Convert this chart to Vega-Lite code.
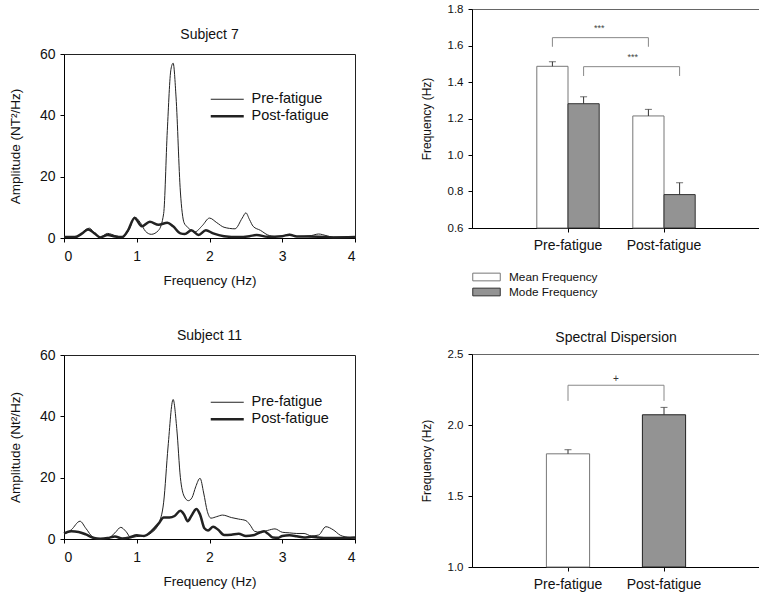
{
  "$schema": "https://vega.github.io/schema/vega-lite/v6.json",
  "description": "Power spectra of two subjects and bar charts of spectral measures, pre vs post fatigue",
  "padding": {"left": 7, "top": 2, "right": 0, "bottom": 0},
  "config": {
    "font": "Liberation Sans",
    "axis": {"grid": false, "domainColor": "#000", "tickColor": "#000", "labelColor": "#111", "titleColor": "#111", "titleFontWeight": "normal", "tickSize": 4, "labelOverlap": false},
    "title": {"fontWeight": "normal", "fontSize": 14, "color": "#111"},
    "legend": {"labelColor": "#111"}
  },
  "datasets": {
    "subject7": [
      {"freq": 0, "amp": 0.5, "series": "Pre-fatigue"},
      {"freq": 0.1, "amp": 0.3, "series": "Pre-fatigue"},
      {"freq": 0.2, "amp": 0.6, "series": "Pre-fatigue"},
      {"freq": 0.3, "amp": 2.8, "series": "Pre-fatigue"},
      {"freq": 0.35, "amp": 3.2, "series": "Pre-fatigue"},
      {"freq": 0.42, "amp": 1.5, "series": "Pre-fatigue"},
      {"freq": 0.5, "amp": 0.3, "series": "Pre-fatigue"},
      {"freq": 0.6, "amp": 1.5, "series": "Pre-fatigue"},
      {"freq": 0.7, "amp": 0.8, "series": "Pre-fatigue"},
      {"freq": 0.8, "amp": 0.3, "series": "Pre-fatigue"},
      {"freq": 0.9, "amp": 3, "series": "Pre-fatigue"},
      {"freq": 0.97, "amp": 6.8, "series": "Pre-fatigue"},
      {"freq": 1.05, "amp": 5, "series": "Pre-fatigue"},
      {"freq": 1.12, "amp": 2.2, "series": "Pre-fatigue"},
      {"freq": 1.2, "amp": 1.2, "series": "Pre-fatigue"},
      {"freq": 1.3, "amp": 2.5, "series": "Pre-fatigue"},
      {"freq": 1.37, "amp": 8, "series": "Pre-fatigue"},
      {"freq": 1.42, "amp": 35, "series": "Pre-fatigue"},
      {"freq": 1.47, "amp": 55, "series": "Pre-fatigue"},
      {"freq": 1.5, "amp": 57, "series": "Pre-fatigue"},
      {"freq": 1.54, "amp": 46, "series": "Pre-fatigue"},
      {"freq": 1.6, "amp": 15, "series": "Pre-fatigue"},
      {"freq": 1.65, "amp": 5, "series": "Pre-fatigue"},
      {"freq": 1.7, "amp": 3.5, "series": "Pre-fatigue"},
      {"freq": 1.8, "amp": 2, "series": "Pre-fatigue"},
      {"freq": 1.9, "amp": 4, "series": "Pre-fatigue"},
      {"freq": 2.0, "amp": 6.5, "series": "Pre-fatigue"},
      {"freq": 2.1, "amp": 5, "series": "Pre-fatigue"},
      {"freq": 2.2, "amp": 3.5, "series": "Pre-fatigue"},
      {"freq": 2.35, "amp": 3, "series": "Pre-fatigue"},
      {"freq": 2.45, "amp": 6.5, "series": "Pre-fatigue"},
      {"freq": 2.5, "amp": 8.2, "series": "Pre-fatigue"},
      {"freq": 2.55, "amp": 6, "series": "Pre-fatigue"},
      {"freq": 2.6, "amp": 3.8, "series": "Pre-fatigue"},
      {"freq": 2.7, "amp": 2.5, "series": "Pre-fatigue"},
      {"freq": 2.8, "amp": 1, "series": "Pre-fatigue"},
      {"freq": 2.9, "amp": 0.5, "series": "Pre-fatigue"},
      {"freq": 3.0, "amp": 0.6, "series": "Pre-fatigue"},
      {"freq": 3.1, "amp": 1.2, "series": "Pre-fatigue"},
      {"freq": 3.2, "amp": 0.5, "series": "Pre-fatigue"},
      {"freq": 3.4, "amp": 0.8, "series": "Pre-fatigue"},
      {"freq": 3.5, "amp": 1.3, "series": "Pre-fatigue"},
      {"freq": 3.6, "amp": 0.8, "series": "Pre-fatigue"},
      {"freq": 3.7, "amp": 0.3, "series": "Pre-fatigue"},
      {"freq": 3.85, "amp": 0.3, "series": "Pre-fatigue"},
      {"freq": 4.0, "amp": 0.5, "series": "Pre-fatigue"},
      {"freq": 0, "amp": 0.3, "series": "Post-fatigue"},
      {"freq": 0.15, "amp": 0.3, "series": "Post-fatigue"},
      {"freq": 0.25, "amp": 1.5, "series": "Post-fatigue"},
      {"freq": 0.33, "amp": 2.8, "series": "Post-fatigue"},
      {"freq": 0.42, "amp": 1.5, "series": "Post-fatigue"},
      {"freq": 0.5, "amp": 0.2, "series": "Post-fatigue"},
      {"freq": 0.6, "amp": 1, "series": "Post-fatigue"},
      {"freq": 0.7, "amp": 0.5, "series": "Post-fatigue"},
      {"freq": 0.8, "amp": 0.3, "series": "Post-fatigue"},
      {"freq": 0.88, "amp": 2.5, "series": "Post-fatigue"},
      {"freq": 0.97, "amp": 6.5, "series": "Post-fatigue"},
      {"freq": 1.07, "amp": 3.8, "series": "Post-fatigue"},
      {"freq": 1.18, "amp": 5.3, "series": "Post-fatigue"},
      {"freq": 1.3, "amp": 4.3, "series": "Post-fatigue"},
      {"freq": 1.42, "amp": 5, "series": "Post-fatigue"},
      {"freq": 1.5, "amp": 3.8, "series": "Post-fatigue"},
      {"freq": 1.6, "amp": 1.5, "series": "Post-fatigue"},
      {"freq": 1.66, "amp": 1.3, "series": "Post-fatigue"},
      {"freq": 1.75, "amp": 2.5, "series": "Post-fatigue"},
      {"freq": 1.85, "amp": 1, "series": "Post-fatigue"},
      {"freq": 1.95, "amp": 2.5, "series": "Post-fatigue"},
      {"freq": 2.05, "amp": 1.5, "series": "Post-fatigue"},
      {"freq": 2.2, "amp": 0.6, "series": "Post-fatigue"},
      {"freq": 2.4, "amp": 0.3, "series": "Post-fatigue"},
      {"freq": 2.55, "amp": 0.6, "series": "Post-fatigue"},
      {"freq": 2.65, "amp": 1, "series": "Post-fatigue"},
      {"freq": 2.8, "amp": 0.4, "series": "Post-fatigue"},
      {"freq": 3.0, "amp": 0.6, "series": "Post-fatigue"},
      {"freq": 3.1, "amp": 1.1, "series": "Post-fatigue"},
      {"freq": 3.2, "amp": 0.5, "series": "Post-fatigue"},
      {"freq": 3.5, "amp": 0.4, "series": "Post-fatigue"},
      {"freq": 3.7, "amp": 0.2, "series": "Post-fatigue"},
      {"freq": 4.0, "amp": 0.3, "series": "Post-fatigue"}
    ],
    "subject11": [
      {"freq": 0, "amp": 1.5, "series": "Pre-fatigue"},
      {"freq": 0.1, "amp": 3, "series": "Pre-fatigue"},
      {"freq": 0.22, "amp": 5.8, "series": "Pre-fatigue"},
      {"freq": 0.3, "amp": 3.5, "series": "Pre-fatigue"},
      {"freq": 0.4, "amp": 0.6, "series": "Pre-fatigue"},
      {"freq": 0.5, "amp": 0.1, "series": "Pre-fatigue"},
      {"freq": 0.6, "amp": 0.2, "series": "Pre-fatigue"},
      {"freq": 0.7, "amp": 2, "series": "Pre-fatigue"},
      {"freq": 0.78, "amp": 3.8, "series": "Pre-fatigue"},
      {"freq": 0.85, "amp": 2.5, "series": "Pre-fatigue"},
      {"freq": 0.92, "amp": 0.5, "series": "Pre-fatigue"},
      {"freq": 1.0, "amp": 0.8, "series": "Pre-fatigue"},
      {"freq": 1.1, "amp": 1, "series": "Pre-fatigue"},
      {"freq": 1.2, "amp": 2, "series": "Pre-fatigue"},
      {"freq": 1.3, "amp": 5, "series": "Pre-fatigue"},
      {"freq": 1.37, "amp": 12, "series": "Pre-fatigue"},
      {"freq": 1.43, "amp": 30, "series": "Pre-fatigue"},
      {"freq": 1.5, "amp": 45.5, "series": "Pre-fatigue"},
      {"freq": 1.55, "amp": 36, "series": "Pre-fatigue"},
      {"freq": 1.6, "amp": 20, "series": "Pre-fatigue"},
      {"freq": 1.65, "amp": 14, "series": "Pre-fatigue"},
      {"freq": 1.71, "amp": 12.5, "series": "Pre-fatigue"},
      {"freq": 1.76, "amp": 13.5, "series": "Pre-fatigue"},
      {"freq": 1.81, "amp": 17, "series": "Pre-fatigue"},
      {"freq": 1.87, "amp": 19.8, "series": "Pre-fatigue"},
      {"freq": 1.92, "amp": 15, "series": "Pre-fatigue"},
      {"freq": 1.97, "amp": 9, "series": "Pre-fatigue"},
      {"freq": 2.02, "amp": 6.8, "series": "Pre-fatigue"},
      {"freq": 2.1, "amp": 7.3, "series": "Pre-fatigue"},
      {"freq": 2.18, "amp": 7.8, "series": "Pre-fatigue"},
      {"freq": 2.3, "amp": 7, "series": "Pre-fatigue"},
      {"freq": 2.4, "amp": 6.5, "series": "Pre-fatigue"},
      {"freq": 2.5, "amp": 6, "series": "Pre-fatigue"},
      {"freq": 2.56, "amp": 4.5, "series": "Pre-fatigue"},
      {"freq": 2.62, "amp": 2.5, "series": "Pre-fatigue"},
      {"freq": 2.7, "amp": 2.2, "series": "Pre-fatigue"},
      {"freq": 2.8, "amp": 2.8, "series": "Pre-fatigue"},
      {"freq": 2.9, "amp": 3.3, "series": "Pre-fatigue"},
      {"freq": 3.0, "amp": 2.2, "series": "Pre-fatigue"},
      {"freq": 3.1, "amp": 2, "series": "Pre-fatigue"},
      {"freq": 3.2, "amp": 1.8, "series": "Pre-fatigue"},
      {"freq": 3.3, "amp": 1.8, "series": "Pre-fatigue"},
      {"freq": 3.4, "amp": 1, "series": "Pre-fatigue"},
      {"freq": 3.5, "amp": 1.3, "series": "Pre-fatigue"},
      {"freq": 3.6, "amp": 4, "series": "Pre-fatigue"},
      {"freq": 3.7, "amp": 3, "series": "Pre-fatigue"},
      {"freq": 3.8, "amp": 1.2, "series": "Pre-fatigue"},
      {"freq": 3.9, "amp": 0.6, "series": "Pre-fatigue"},
      {"freq": 4.0, "amp": 0.3, "series": "Pre-fatigue"},
      {"freq": 0, "amp": 1.8, "series": "Post-fatigue"},
      {"freq": 0.1, "amp": 2.5, "series": "Post-fatigue"},
      {"freq": 0.2, "amp": 2.3, "series": "Post-fatigue"},
      {"freq": 0.3, "amp": 1.5, "series": "Post-fatigue"},
      {"freq": 0.4, "amp": 0.4, "series": "Post-fatigue"},
      {"freq": 0.5, "amp": 0.1, "series": "Post-fatigue"},
      {"freq": 0.6, "amp": 0.3, "series": "Post-fatigue"},
      {"freq": 0.7, "amp": 0.8, "series": "Post-fatigue"},
      {"freq": 0.8, "amp": 0.2, "series": "Post-fatigue"},
      {"freq": 0.9, "amp": 0.5, "series": "Post-fatigue"},
      {"freq": 1.0, "amp": 1.2, "series": "Post-fatigue"},
      {"freq": 1.1, "amp": 1, "series": "Post-fatigue"},
      {"freq": 1.2, "amp": 2.5, "series": "Post-fatigue"},
      {"freq": 1.3, "amp": 5, "series": "Post-fatigue"},
      {"freq": 1.37, "amp": 7, "series": "Post-fatigue"},
      {"freq": 1.45, "amp": 7, "series": "Post-fatigue"},
      {"freq": 1.52, "amp": 7.5, "series": "Post-fatigue"},
      {"freq": 1.6, "amp": 9.2, "series": "Post-fatigue"},
      {"freq": 1.65, "amp": 8, "series": "Post-fatigue"},
      {"freq": 1.7, "amp": 5.8, "series": "Post-fatigue"},
      {"freq": 1.75, "amp": 7.5, "series": "Post-fatigue"},
      {"freq": 1.82, "amp": 9.8, "series": "Post-fatigue"},
      {"freq": 1.87, "amp": 8, "series": "Post-fatigue"},
      {"freq": 1.93, "amp": 3.5, "series": "Post-fatigue"},
      {"freq": 1.98, "amp": 2.8, "series": "Post-fatigue"},
      {"freq": 2.05, "amp": 4, "series": "Post-fatigue"},
      {"freq": 2.12, "amp": 3, "series": "Post-fatigue"},
      {"freq": 2.2, "amp": 1.3, "series": "Post-fatigue"},
      {"freq": 2.3, "amp": 1.4, "series": "Post-fatigue"},
      {"freq": 2.4, "amp": 1.7, "series": "Post-fatigue"},
      {"freq": 2.5, "amp": 1, "series": "Post-fatigue"},
      {"freq": 2.6, "amp": 1.2, "series": "Post-fatigue"},
      {"freq": 2.7, "amp": 2.2, "series": "Post-fatigue"},
      {"freq": 2.75, "amp": 2.5, "series": "Post-fatigue"},
      {"freq": 2.8, "amp": 1.8, "series": "Post-fatigue"},
      {"freq": 2.87, "amp": 0.5, "series": "Post-fatigue"},
      {"freq": 2.95, "amp": 0.4, "series": "Post-fatigue"},
      {"freq": 3.0, "amp": 1, "series": "Post-fatigue"},
      {"freq": 3.1, "amp": 1.2, "series": "Post-fatigue"},
      {"freq": 3.2, "amp": 0.9, "series": "Post-fatigue"},
      {"freq": 3.3, "amp": 0.5, "series": "Post-fatigue"},
      {"freq": 3.4, "amp": 0.7, "series": "Post-fatigue"},
      {"freq": 3.5, "amp": 0.5, "series": "Post-fatigue"},
      {"freq": 3.6, "amp": 0.3, "series": "Post-fatigue"},
      {"freq": 3.8, "amp": 0.3, "series": "Post-fatigue"},
      {"freq": 4.0, "amp": 0.5, "series": "Post-fatigue"}
    ],
    "peaks": [
      {"condition": "Pre-fatigue", "measure": "Mean Frequency", "value": 1.486, "err": 1.511},
      {"condition": "Pre-fatigue", "measure": "Mode Frequency", "value": 1.281, "err": 1.319},
      {"condition": "Post-fatigue", "measure": "Mean Frequency", "value": 1.214, "err": 1.25},
      {"condition": "Post-fatigue", "measure": "Mode Frequency", "value": 0.783, "err": 0.848}
    ],
    "peakBrackets": [
      {"bracket": "mean", "step": 1, "condition": "Pre-fatigue", "measure": "Mean Frequency", "y": 1.593},
      {"bracket": "mean", "step": 2, "condition": "Pre-fatigue", "measure": "Mean Frequency", "y": 1.643},
      {"bracket": "mean", "step": 3, "condition": "Post-fatigue", "measure": "Mean Frequency", "y": 1.643},
      {"bracket": "mean", "step": 4, "condition": "Post-fatigue", "measure": "Mean Frequency", "y": 1.593},
      {"bracket": "mode", "step": 1, "condition": "Pre-fatigue", "measure": "Mode Frequency", "y": 1.433},
      {"bracket": "mode", "step": 2, "condition": "Pre-fatigue", "measure": "Mode Frequency", "y": 1.484},
      {"bracket": "mode", "step": 3, "condition": "Post-fatigue", "measure": "Mode Frequency", "y": 1.484},
      {"bracket": "mode", "step": 4, "condition": "Post-fatigue", "measure": "Mode Frequency", "y": 1.433}
    ],
    "dispersion": [
      {"condition": "Pre-fatigue", "value": 1.797, "err": 1.826},
      {"condition": "Post-fatigue", "value": 2.072, "err": 2.124}
    ],
    "dispBracket": [
      {"step": 1, "condition": "Pre-fatigue", "y": 2.17},
      {"step": 2, "condition": "Pre-fatigue", "y": 2.28},
      {"step": 3, "condition": "Post-fatigue", "y": 2.28},
      {"step": 4, "condition": "Post-fatigue", "y": 2.17}
    ]
  },
  "spacing": 58,
  "resolve": {
    "scale": {"fill": "independent", "stroke": "independent", "strokeWidth": "independent"},
    "legend": {"fill": "independent", "stroke": "independent", "strokeWidth": "independent"}
  },
  "hconcat": [
    {
      "spacing": 0,
      "resolve": {
        "scale": {"strokeWidth": "independent"},
        "legend": {"strokeWidth": "independent"}
      },
      "vconcat": [
        {
          "width": 291,
          "height": 18,
          "view": {"stroke": null},
          "data": {"values": []},
          "mark": {"type": "point", "opacity": 0},
          "encoding": {}
        },
        {
          "spacing": 41,
          "resolve": {
            "scale": {"strokeWidth": "independent"},
            "legend": {"strokeWidth": "independent"}
          },
          "vconcat": [
            {
              "width": 291,
              "height": 184,
              "title": {"text": "Subject 7", "offset": 5},
              "view": {"stroke": "#222"},
              "data": {"name": "subject7"},
              "mark": {"type": "line", "interpolate": "monotone", "color": "#222"},
              "encoding": {
                "x": {"field": "freq", "type": "quantitative", "scale": {"domain": [0, 4], "nice": false},
                      "axis": {"values": [0, 1, 2, 3, 4], "title": "Frequency (Hz)", "labelFontSize": 14, "titleFontSize": 13.5, "labelPadding": 7, "titlePadding": 10}},
                "y": {"field": "amp", "type": "quantitative", "scale": {"domain": [0, 60]},
                      "axis": {"values": [0, 20, 40, 60], "title": "Amplitude (NT²/Hz)", "labelFontSize": 14, "titleFontSize": 13.5, "labelPadding": 5, "titlePadding": 17}},
                "strokeWidth": {"field": "series", "type": "ordinal", "scale": {"domain": ["Pre-fatigue", "Post-fatigue"], "range": [1, 2.5]},
                      "legend": {"title": null, "orient": "none", "legendX": 156, "legendY": 38, "symbolType": "M-3,0H3", "symbolSize": 121, "symbolStrokeColor": "#222", "labelFontSize": 14.5, "labelOffset": 17, "padding": 0}}
              }
            },
            {
              "width": 291,
              "height": 184,
              "title": {"text": "Subject 11", "offset": 5},
              "view": {"stroke": "#222"},
              "data": {"name": "subject11"},
              "mark": {"type": "line", "interpolate": "monotone", "color": "#222"},
              "encoding": {
                "x": {"field": "freq", "type": "quantitative", "scale": {"domain": [0, 4], "nice": false},
                      "axis": {"values": [0, 1, 2, 3, 4], "title": "Frequency (Hz)", "labelFontSize": 14, "titleFontSize": 13.5, "labelPadding": 7, "titlePadding": 10}},
                "y": {"field": "amp", "type": "quantitative", "scale": {"domain": [0, 60]},
                      "axis": {"values": [0, 20, 40, 60], "title": "Amplitude (Nt²/Hz)", "labelFontSize": 14, "titleFontSize": 13.5, "labelPadding": 5, "titlePadding": 17}},
                "strokeWidth": {"field": "series", "type": "ordinal", "scale": {"domain": ["Pre-fatigue", "Post-fatigue"], "range": [1, 2.5]},
                      "legend": {"title": null, "orient": "none", "legendX": 156, "legendY": 40, "symbolType": "M-3,0H3", "symbolSize": 121, "symbolStrokeColor": "#222", "labelFontSize": 14.5, "labelOffset": 17, "padding": 0}}
              }
            }
          ]
        }
      ]
    },
    {
      "spacing": 30,
      "resolve": {
        "scale": {"fill": "independent", "stroke": "independent"},
        "legend": {"fill": "independent", "stroke": "independent"}
      },
      "vconcat": [
        {
          "width": 288,
          "height": 219,
          "view": {"stroke": "#666"},
          "encoding": {
            "x": {"field": "condition", "type": "nominal", "sort": null,
                  "scale": {"domain": ["Pre-fatigue", "Post-fatigue"], "paddingInner": 0.35, "paddingOuter": 0.675},
                  "axis": {"title": null, "labelAngle": 0, "labelFontSize": 14, "labelPadding": 6}},
            "xOffset": {"field": "measure", "type": "nominal", "scale": {"domain": ["Mean Frequency", "Mode Frequency"], "paddingInner": 0, "paddingOuter": 0}}
          },
          "layer": [
            {
              "data": {"name": "peaks"},
              "mark": {"type": "bar", "strokeWidth": 1},
              "encoding": {
                "y": {"field": "value", "type": "quantitative", "scale": {"domain": [0.6, 1.8], "nice": false, "zero": false},
                      "axis": {"values": [0.6, 0.8, 1.0, 1.2, 1.4, 1.6, 1.8], "tickCount": 7, "format": ".1f", "title": "Frequency (Hz)", "labelFontSize": 11.5, "titleFontSize": 12, "labelPadding": 5, "titlePadding": 14, "labelOverlap": false}},
                "y2": {"datum": 0.6},
                "fill": {"field": "measure", "type": "nominal", "scale": {"domain": ["Mean Frequency", "Mode Frequency"], "range": ["#ffffff", "#939393"]},
                         "legend": {"title": null, "orient": "none", "legendX": 8.5, "legendY": 262, "symbolType": "M-2.5,-0.7H2.5V0.7H-2.5Z", "symbolSize": 121, "symbolStrokeColor": "#333", "symbolStrokeWidth": 1, "symbolOpacity": 1, "labelFontSize": 11.8, "labelOffset": 16.5, "padding": 0, "rowPadding": 2}},
                "stroke": {"field": "measure", "type": "nominal", "scale": {"domain": ["Mean Frequency", "Mode Frequency"], "range": ["#777777", "#333333"]}, "legend": null}
              }
            },
            {
              "data": {"name": "peaks"},
              "mark": {"type": "rule", "color": "#333", "strokeWidth": 1},
              "encoding": {"y": {"field": "value", "type": "quantitative", "axis": {"values": [0.6, 0.8, 1.0, 1.2, 1.4, 1.6, 1.8], "tickCount": 7}}, "y2": {"field": "err"}}
            },
            {
              "data": {"name": "peaks"},
              "mark": {"type": "tick", "color": "#333", "size": 7, "thickness": 1},
              "encoding": {"y": {"field": "err", "type": "quantitative", "axis": {"values": [0.6, 0.8, 1.0, 1.2, 1.4, 1.6, 1.8], "tickCount": 7}}}
            },
            {
              "data": {"name": "peakBrackets"},
              "mark": {"type": "line", "color": "#888", "strokeWidth": 1},
              "encoding": {
                "y": {"field": "y", "type": "quantitative", "axis": {"values": [0.6, 0.8, 1.0, 1.2, 1.4, 1.6, 1.8], "tickCount": 7}},
                "order": {"field": "step", "type": "quantitative"},
                "detail": {"field": "bracket", "type": "nominal"}
              }
            },
            {
              "data": {"values": [{"label": "***", "condition": "Pre-fatigue", "y": 1.696}]},
              "mark": {"type": "text", "fontSize": 9, "color": "#444"},
              "encoding": {
                "x": {"field": "condition", "type": "nominal", "bandPosition": 1},
                "xOffset": null,
                "y": {"field": "y", "type": "quantitative", "axis": {"values": [0.6, 0.8, 1.0, 1.2, 1.4, 1.6, 1.8], "tickCount": 7}},
                "text": {"field": "label"}
              }
            },
            {
              "data": {"values": [{"label": "***", "condition": "Post-fatigue", "y": 1.537}]},
              "mark": {"type": "text", "fontSize": 9, "color": "#444"},
              "encoding": {
                "x": {"field": "condition", "type": "nominal", "bandPosition": 0},
                "xOffset": null,
                "y": {"field": "y", "type": "quantitative", "axis": {"values": [0.6, 0.8, 1.0, 1.2, 1.4, 1.6, 1.8], "tickCount": 7}},
                "text": {"field": "label"}
              }
            }
          ]
        },
        {
          "width": 288,
          "height": 213,
          "title": {"text": "Spectral Dispersion", "offset": 3},
          "view": {"stroke": "#666"},
          "encoding": {
            "x": {"field": "condition", "type": "nominal", "sort": null,
                  "scale": {"domain": ["Pre-fatigue", "Post-fatigue"], "paddingInner": 0, "paddingOuter": 0.5},
                  "axis": {"title": null, "labelAngle": 0, "labelFontSize": 14, "labelPadding": 6}}
          },
          "layer": [
            {
              "data": {"name": "dispersion"},
              "mark": {"type": "bar", "strokeWidth": 1, "width": {"band": 0.45}},
              "encoding": {
                "y": {"field": "value", "type": "quantitative", "scale": {"domain": [1.0, 2.5], "nice": false, "zero": false},
                      "axis": {"values": [1.0, 1.5, 2.0, 2.5], "format": ".1f", "title": "Frequency (Hz)", "labelFontSize": 11.5, "titleFontSize": 12, "labelPadding": 5, "titlePadding": 14, "labelOverlap": false}},
                "y2": {"datum": 1.0},
                "fill": {"field": "condition", "type": "nominal", "scale": {"domain": ["Pre-fatigue", "Post-fatigue"], "range": ["#ffffff", "#939393"]}, "legend": null},
                "stroke": {"field": "condition", "type": "nominal", "scale": {"domain": ["Pre-fatigue", "Post-fatigue"], "range": ["#777777", "#222222"]}, "legend": null}
              }
            },
            {
              "data": {"name": "dispersion"},
              "mark": {"type": "rule", "color": "#333", "strokeWidth": 1},
              "encoding": {"y": {"field": "value", "type": "quantitative"}, "y2": {"field": "err"}}
            },
            {
              "data": {"name": "dispersion"},
              "mark": {"type": "tick", "color": "#333", "size": 7, "thickness": 1},
              "encoding": {"y": {"field": "err", "type": "quantitative"}}
            },
            {
              "data": {"name": "dispBracket"},
              "mark": {"type": "line", "color": "#888", "strokeWidth": 1},
              "encoding": {
                "y": {"field": "y", "type": "quantitative"},
                "order": {"field": "step", "type": "quantitative"}
              }
            },
            {
              "data": {"values": [{"label": "+", "condition": "Pre-fatigue", "y": 2.324}]},
              "mark": {"type": "text", "fontSize": 10, "color": "#333"},
              "encoding": {
                "x": {"field": "condition", "type": "nominal", "bandPosition": 1},
                "y": {"field": "y", "type": "quantitative"},
                "text": {"field": "label"}
              }
            }
          ]
        }
      ]
    }
  ]
}
